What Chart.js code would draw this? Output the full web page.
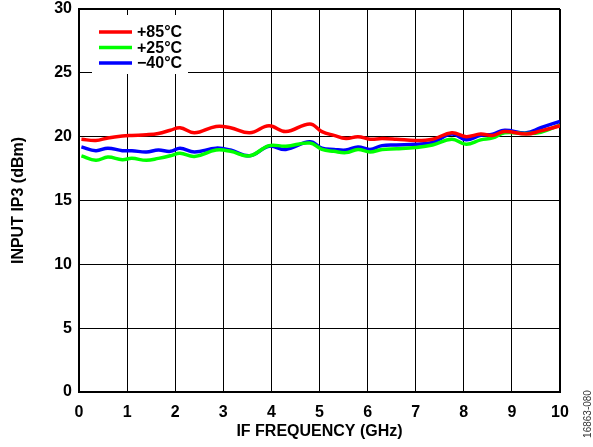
<!DOCTYPE html>
<html>
<head>
<meta charset="utf-8">
<script src="https://cdn.jsdelivr.net/npm/chart.js@4/dist/chart.umd.min.js"></script>
<style>
  html, body { margin: 0; padding: 0; background: #fff; }
  #wrap { width: 593px; height: 447px; position: relative; }
</style>
</head>
<body>
<div id="wrap"><canvas id="chart"></canvas></div>
<script>
// IF frequency (GHz) where the curves were read
const freq = [0.05, 0.35, 0.6, 0.9, 1.1, 1.4, 1.65, 1.9, 2.1, 2.4, 2.85, 3.15, 3.55, 3.95, 4.3, 4.8,
  5.05, 5.3, 5.55, 5.8, 6.05, 6.3, 6.6, 7.0, 7.35, 7.75, 8.05, 8.35, 8.6, 8.85, 9.3, 9.6, 10];

// input IP3 (dBm)
const ip3_85 = [19.8, 19.7, 19.9, 20.05, 20.1, 20.15, 20.25, 20.5, 20.7, 20.3, 20.8, 20.7, 20.3, 20.85, 20.4, 21.0,
  20.4, 20.1, 19.85, 20.0, 19.8, 19.85, 19.8, 19.7, 19.8, 20.3, 20.0, 20.2, 20.1, 20.4, 20.2, 20.45, 20.85];
const ip3_25 = [18.5, 18.15, 18.4, 18.2, 18.3, 18.15, 18.3, 18.5, 18.7, 18.45, 18.95, 18.85, 18.5, 19.3, 19.25, 19.5,
  19.0, 18.85, 18.75, 19.0, 18.8, 19.0, 19.05, 19.15, 19.35, 19.8, 19.4, 19.75, 19.9, 20.3, 20.25, 20.35, 20.9];
const ip3_m40 = [19.2, 18.9, 19.1, 18.9, 18.9, 18.8, 18.95, 18.85, 19.1, 18.8, 19.1, 18.95, 18.5, 19.25, 19.0, 19.6,
  19.1, 19.0, 18.95, 19.2, 19.0, 19.3, 19.35, 19.4, 19.55, 20.2, 19.75, 20.1, 20.2, 20.5, 20.3, 20.7, 21.2];

const seriesLabels = ['+85°C', '+25°C', '\u221240°C'];
const seriesColors = ['#ff0000', '#00ff00', '#0000ff'];
const xTitle = 'IF FREQUENCY (GHz)';
const yTitle = 'INPUT IP3 (dBm)';
const figId = '16863-080';

const FONT = '"Liberation Sans", Arial, Helvetica, sans-serif';

const pts = ys => ys.map((y, i) => ({ x: freq[i], y: y }));

// legend box inside the plot, top left
const boxLegend = {
  id: 'boxLegend',
  afterDatasetsDraw(chart) {
    const c = chart.ctx, a = chart.chartArea;
    const x0 = a.left + 13, y0 = a.top + 6;
    c.save();
    c.fillStyle = '#fff';
    c.fillRect(x0, y0, 96, 59);
    c.font = 'bold 16px ' + FONT;
    c.textBaseline = 'middle';
    chart.data.datasets.forEach((ds, i) => {
      const y = y0 + 17 + i * 15.5;
      c.strokeStyle = ds.borderColor;
      c.lineWidth = 3.5;
      c.beginPath();
      c.moveTo(x0 + 7, y);
      c.lineTo(x0 + 40, y);
      c.stroke();
      c.fillStyle = '#000';
      c.fillText(ds.label, x0 + 45, y + 1);
    });
    c.restore();
  }
};

// figure number at the right edge
const figNote = {
  id: 'figNote',
  afterDraw(chart) {
    const c = chart.ctx;
    c.save();
    c.translate(588, 414);
    c.rotate(-Math.PI / 2);
    c.font = '10px ' + FONT;
    c.fillStyle = '#333';
    c.textAlign = 'center';
    c.textBaseline = 'middle';
    c.fillText(figId, 0, 0);
    c.restore();
  }
};

const edgeWidth = ctx => (ctx.index === 0 || ctx.index === ctx.chart.scales[ctx.scale.id].ticks.length - 1) ? 2 : 1;

new Chart(document.getElementById('chart'), {
  type: 'line',
  data: {
    datasets: [
      { label: seriesLabels[0], data: pts(ip3_85), borderColor: seriesColors[0] },
      { label: seriesLabels[1], data: pts(ip3_25), borderColor: seriesColors[1] },
      { label: seriesLabels[2], data: pts(ip3_m40), borderColor: seriesColors[2] }
    ]
  },
  options: {
    responsive: true,
    maintainAspectRatio: false,
    animation: false,
    layout: { padding: { top: 9, right: 33, left: 0, bottom: 0 } },
    elements: {
      line: { borderWidth: 3.5, tension: 0.4, fill: false },
      point: { radius: 0 }
    },
    plugins: { legend: { display: false }, tooltip: { enabled: false } },
    scales: {
      x: {
        type: 'linear',
        min: 0, max: 10,
        afterFit: s => { s.height = 55; s.paddingLeft = 0; s.paddingRight = 0; },
        ticks: { stepSize: 1, padding: 11, color: '#000', font: { family: FONT, size: 16, weight: 'bold' } },
        grid: { color: '#000', lineWidth: edgeWidth, drawTicks: false },
        border: { color: '#000', width: 2 },
        title: { display: true, text: xTitle, color: '#000', padding: { top: 6, bottom: 6 },
                 font: { family: FONT, size: 16, weight: 'bold' } }
      },
      y: {
        min: 0, max: 30,
        afterFit: s => { s.width = 79; s.paddingTop = 0; s.paddingBottom = 0; },
        ticks: { stepSize: 5, padding: 7, color: '#000', font: { family: FONT, size: 16, weight: 'bold' } },
        grid: { color: '#000', lineWidth: edgeWidth, drawTicks: false },
        border: { color: '#000', width: 2 },
        title: { display: true, text: yTitle, color: '#000', padding: { top: 9, bottom: 4 },
                 font: { family: FONT, size: 16, weight: 'bold' } }
      }
    }
  },
  plugins: [boxLegend, figNote]
});
</script>
</body>
</html>
